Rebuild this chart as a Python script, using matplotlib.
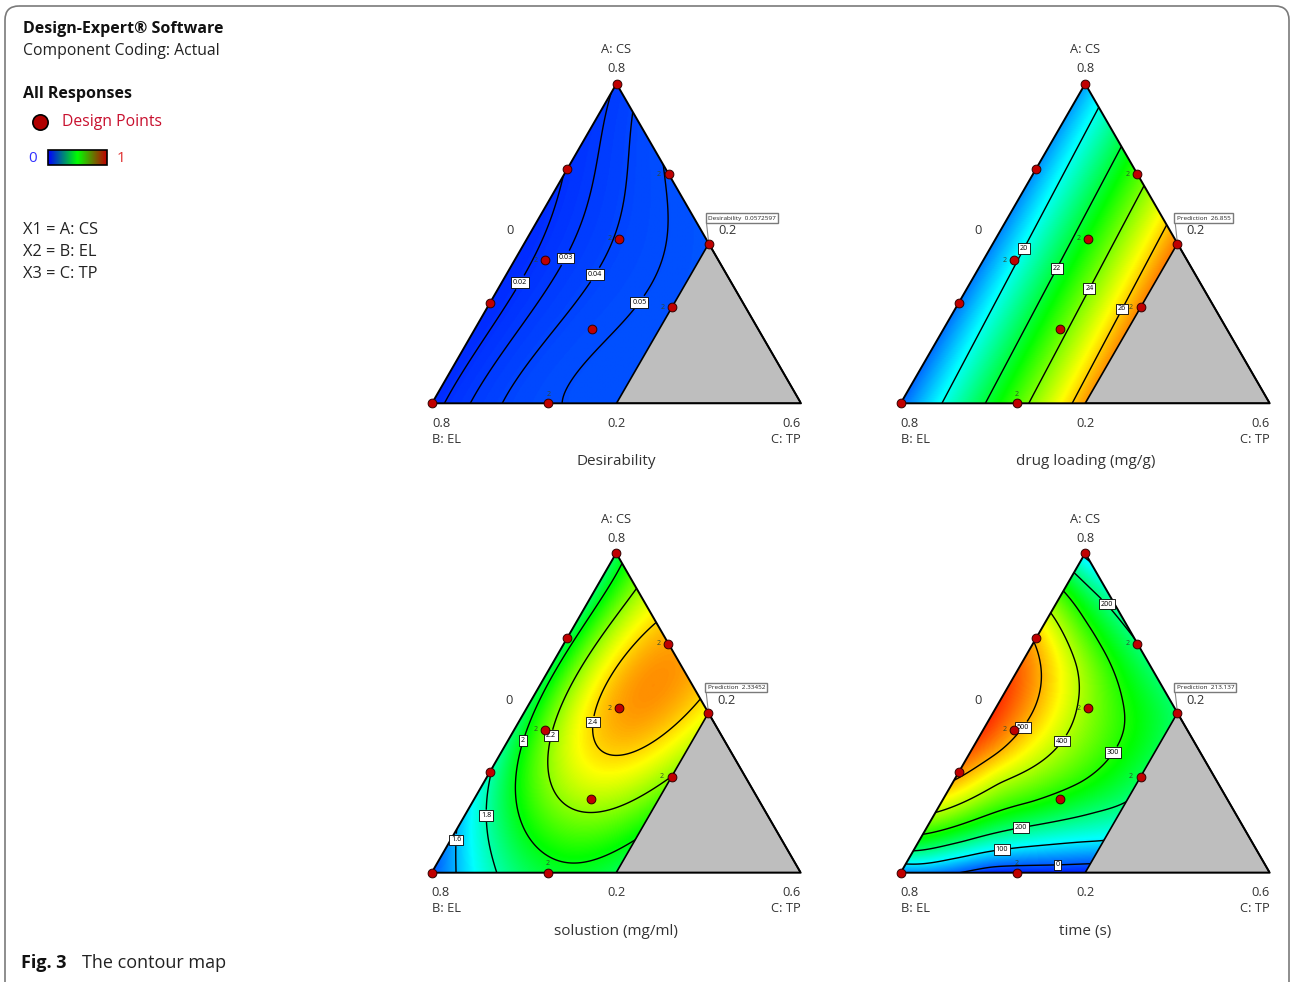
import numpy as np
import matplotlib
matplotlib.use('Agg')
import matplotlib.pyplot as plt
from matplotlib.colors import LinearSegmentedColormap
from matplotlib.patches import Polygon, FancyBboxPatch

plt.rcParams['font.family'] = ['Open Sans', 'DejaVu Sans']

H = np.sqrt(3) / 2

# design points as L-pseudo components: a = CS, c = TP (EL = 1 - a - c)
design_a = [1.0, 0.0, 0.733, 0.315, 0.717, 0.5, 0.3, 0.0, 0.515, 0.448, 0.231]
design_c = [0.0, 0.0, 0.0, 0.0, 0.283, 0.5, 0.5, 0.315, 0.25, 0.083, 0.317]
replicates = [4, 6, 7, 8, 9]

# response values: (a, c, value)
desir_pts = [
    (1.0, 0.0, 0.031), (0.0, 0.0, 0.015), (0.5, 0.5, 0.0573), (0.0, 0.5, 0.052),
    (0.73, 0.0, 0.020), (0.35, 0.0, 0.014), (0.845, 0.0, 0.025),
    (0.0, 0.035, 0.020), (0.0, 0.103, 0.030), (0.0, 0.193, 0.040), (0.0, 0.338, 0.050),
    (0.907, 0.093, 0.040), (0.761, 0.239, 0.050),
    (0.177, 0.041, 0.020), (0.378, 0.050, 0.020),
    (0.229, 0.124, 0.030), (0.452, 0.141, 0.030), (0.667, 0.086, 0.030), (0.845, 0.033, 0.030),
    (0.198, 0.194, 0.040), (0.4015, 0.243, 0.040), (0.699, 0.187, 0.040),
    (0.094, 0.381, 0.050), (0.326, 0.387, 0.050), (0.427, 0.404, 0.050),
    (0.515, 0.25, 0.041),
]
desir_levels = [0.02, 0.03, 0.04, 0.05]
desir_labels = [(0.378, 0.050), (0.452, 0.141), (0.4015, 0.243), (0.326, 0.387)]

drug_pts = [(1.0, 0.0, 18.8), (0.0, 0.0, 18.1), (0.0, 0.5, 26.6), (0.5, 0.5, 26.95)]
drug_levels = [20, 22, 24, 26]
drug_labels = [(0.4906, 0.0784), (0.428, 0.1984), (0.3653, 0.3174), (0.3026, 0.4374)]

sol_pts = [
    (0.0, 0.0, 1.50), (1.0, 0.0, 1.93), (0.5, 0.5, 2.335), (0.0, 0.5, 1.93),
    (0.144, 0.0, 1.6), (0.32, 0.0, 1.8), (0.55, 0.0, 1.90), (0.733, 0.0, 1.95),
    (0.0, 0.076, 1.6), (0.0, 0.166, 1.8), (0.0, 0.33, 1.96),
    (0.957, 0.043, 2.0), (0.89, 0.11, 2.2), (0.791, 0.209, 2.4), (0.545, 0.455, 2.4),
    (0.67, 0.33, 2.47), (0.134, 0.5, 2.0), (0.3, 0.5, 2.2),
    (0.73, 0.031, 2.0), (0.415, 0.036, 2.0), (0.28, 0.08, 2.0), (0.175, 0.146, 2.0),
    (0.09, 0.245, 2.0), (0.04, 0.38, 2.0), (0.081, 0.469, 2.0),
    (0.666, 0.087, 2.2), (0.428, 0.113, 2.2), (0.353, 0.135, 2.2), (0.259, 0.199, 2.2),
    (0.186, 0.299, 2.2), (0.191, 0.414, 2.2), (0.249, 0.476, 2.2),
    (0.697, 0.161, 2.4), (0.603, 0.172, 2.4), (0.489, 0.215, 2.4), (0.416, 0.275, 2.4),
    (0.389, 0.36, 2.4), (0.437, 0.427, 2.4),
    (0.092, 0.107, 1.8), (0.178, 0.055, 1.8),
    (0.1023, 0.022, 1.6), (0.071, 0.039, 1.6),
    (0.58, 0.28, 2.49),
]
sol_levels = [1.6, 1.8, 2.0, 2.2, 2.4]
sol_labels = [(0.1023, 0.022), (0.178, 0.055), (0.415, 0.036), (0.428, 0.113), (0.468, 0.228)]

time_pts = [
    (0.0, 0.0, -10), (1.0, 0.0, 50), (0.5, 0.5, 213), (0.0, 0.5, -40), (0.0, 0.25, -50),
    (0.024, 0.0, 100), (0.0554, 0.0, 200), (0.115, 0.0, 300), (0.186, 0.0, 400),
    (0.285, 0.0, 500), (0.45, 0.0, 590), (0.727, 0.0, 500), (0.816, 0.0, 400),
    (0.885, 0.0, 300), (0.948, 0.0, 200),
    (0.727, 0.273, 200), (0.6, 0.4, 208),
    (0.35, 0.5, 230), (0.21, 0.5, 200), (0.092, 0.5, 100), (0.034, 0.5, 0),
    (0.0137, 0.212, 0), (0.024, 0.413, 0),
    (0.0439, 0.106, 100), (0.069, 0.240, 100),
    (0.0962, 0.1255, 200), (0.141, 0.255, 200), (0.195, 0.43, 200),
    (0.155, 0.096, 300), (0.217, 0.246, 300), (0.28, 0.35, 300), (0.376, 0.388, 300),
    (0.447, 0.384, 300), (0.541, 0.328, 300), (0.719, 0.176, 300),
    (0.29, 0.119, 400), (0.4135, 0.229, 400), (0.5723, 0.1995, 400), (0.645, 0.158, 400),
    (0.374, 0.077, 500), (0.454, 0.105, 500), (0.625, 0.069, 500),
    (0.846, 0.140, 200),
    (0.515, 0.25, 370), (0.448, 0.083, 510), (0.8, 0.12, 260),
    (0.45, 0.45, 255), (0.3, 0.45, 250),
]
time_levels = [0, 100, 200, 300, 400, 500]
time_labels = [(0.024, 0.413), (0.069, 0.240), (0.141, 0.255), (0.846, 0.140),
               (0.376, 0.388), (0.4135, 0.229), (0.454, 0.105)]

panels = [
    dict(pts=desir_pts, levels=desir_levels, labels=desir_labels, vmin=-0.03, vmax=1,
         fit=('poly', 4), title='Desirability', pred='Desirability  0.0572597',
         pos=(432, 403.3)),
    dict(pts=drug_pts, levels=drug_levels, labels=drug_labels, vmin=16.97, vmax=28.3,
         fit=('tps', 0.0), title='drug loading (mg/g)', pred='Prediction  26.855',
         pos=(900.7, 403.3)),
    dict(pts=sol_pts, levels=sol_levels, labels=sol_labels, vmin=1.36, vmax=2.68,
         fit=('poly', 4), title='solustion (mg/ml)', pred='Prediction  2.33452',
         pos=(431.7, 872.7)),
    dict(pts=time_pts, levels=time_levels, labels=time_labels, vmin=-60, vmax=620,
         fit=('tps', 0.01), title='time (s)', pred='Prediction  213.137',
         pos=(900.7, 872.7)),
]

cmap = LinearSegmentedColormap.from_list(
    'de', ['#0000FF', '#00FFFF', '#00FF00', '#FFFF00', '#FF0000'])
bar_cmap = LinearSegmentedColormap.from_list('bar', ['#0000FF', '#00FF00', '#C00000'])


def kern(r):
    with np.errstate(divide='ignore', invalid='ignore'):
        k = r ** 2 * np.log(r)
    return np.nan_to_num(k)


def tps(xs, ys, vs, gx, gy, smooth=0.0):
    # thin-plate spline through the read-off values (smooth > 0 relaxes it)
    n = len(vs)
    A = np.zeros((n + 3, n + 3))
    A[:n, :n] = kern(np.hypot(xs[:, None] - xs, ys[:, None] - ys)) + smooth * np.eye(n)
    P = np.column_stack([np.ones(n), xs, ys])
    A[:n, n:] = P
    A[n:, :n] = P.T
    sol = np.linalg.solve(A, np.concatenate([vs, np.zeros(3)]))
    w, c = sol[:n], sol[n:]
    rg = np.hypot(gx[..., None] - xs, gy[..., None] - ys)
    return kern(rg) @ w + c[0] + c[1] * gx + c[2] * gy


def poly(xs, ys, vs, gx, gy, deg):
    # least-squares mixture polynomial of the given degree
    terms = [(i, j) for i in range(deg + 1) for j in range(deg + 1 - i)]
    M = np.column_stack([xs ** i * ys ** j for i, j in terms])
    coef = np.linalg.lstsq(M, vs, rcond=None)[0]
    return sum(k * gx ** i * gy ** j for k, (i, j) in zip(coef, terms))


def cart(a, c):
    a, c = np.asarray(a, float), np.asarray(c, float)
    return c + a / 2, a * H


W, HP, S = 1290, 982, 369
fig = plt.figure(figsize=(W / 100, HP / 100), dpi=100)

# background axes in pixel units for the legend, caption and frame
bg = fig.add_axes([0, 0, 1, 1])
bg.set_xlim(0, W)
bg.set_ylim(HP, 0)
bg.axis('off')
bg.add_patch(FancyBboxPatch((5, 6), 1284, 1010, boxstyle='round,pad=0,rounding_size=14',
                            fc='none', ec='#7a7a7a', lw=1.2))
bg.text(23, 29, 'Design-Expert® Software', fontsize=11.5, fontweight='bold', va='center', color='#111')
bg.text(23, 51, 'Component Coding: Actual', fontsize=11.3, va='center', color='#222')
bg.text(23, 94, 'All Responses', fontsize=11.5, fontweight='bold', va='center', color='#111')
bg.plot([40], [122], 'o', ms=11, mfc='#B00000', mec='black', mew=1.2)
bg.text(62, 122, 'Design Points', fontsize=11.3, va='center', color='#C8102E')
bg.text(33, 158, '0', fontsize=11, va='center', ha='center', color='#3030FF')
bg.imshow(np.linspace(0, 1, 100)[None, :], cmap=bar_cmap, extent=(48, 107, 165, 150), aspect='auto')
bg.add_patch(plt.Rectangle((48, 150), 59, 15, fc='none', ec='black', lw=1.2))
bg.text(121, 158, '1', fontsize=11, va='center', ha='center', color='#E03030')
for i, s in enumerate(['X1 = A: CS', 'X2 = B: EL', 'X3 = C: TP']):
    bg.text(23, 230 + 22 * i, s, fontsize=11.8, va='center', color='#222')
bg.text(21, 963, 'Fig. 3', fontsize=13, fontweight='bold', va='center', color='#111')
bg.text(82, 963, 'The contour map', fontsize=13, va='center', color='#222')

gx, gy = np.meshgrid(np.linspace(0, 1, 361), np.linspace(0, H, 313))
feasible = [(0, 0), (0.5, 0), (0.75, H / 2), (0.5, H)]
dx, dy = cart(design_a, design_c)

for p in panels:
    x0, y0 = p['pos']
    ax = fig.add_axes([x0 / W, 1 - y0 / HP, S / W, S * H / HP])
    ax.set_xlim(0, 1)
    ax.set_ylim(0, H)
    ax.axis('off')

    pa, pc, pv = zip(*p['pts'])
    px, py = cart(pa, pc)
    pv = np.asarray(pv, float)
    kind, arg = p['fit']
    z = tps(px, py, pv, gx, gy, arg) if kind == 'tps' else poly(px, py, pv, gx, gy, arg)

    clip = Polygon(feasible, closed=True, transform=ax.transData, fc='none', ec='none')
    im = ax.imshow(z, extent=(0, 1, 0, H), origin='lower', cmap=cmap, vmin=p['vmin'],
                   vmax=p['vmax'], interpolation='bilinear', aspect='auto')
    im.set_clip_path(clip)
    cs = ax.contour(gx, gy, z, levels=p['levels'], colors='black', linewidths=1.0)
    cs.set_clip_path(clip)
    la, lc = zip(*p['labels'])
    lx, ly = cart(la, lc)
    texts = ax.clabel(cs, fmt=lambda v: f'{v:g}', fontsize=5.2, inline=True, inline_spacing=1,
                      manual=list(zip(lx, ly)))
    for t in texts:
        t.set_rotation(0)
        t.set_bbox(dict(boxstyle='square,pad=0.25', fc='white', ec='black', lw=0.6))

    ax.add_patch(Polygon([(0.5, 0), (1, 0), (0.75, H / 2)], closed=True,
                         fc='#BEBEBE', ec='black', lw=1.2))
    ax.plot([0, 1, 0.5, 0], [0, 0, H, 0], color='black', lw=1.4, clip_on=False)

    ax.plot(dx, dy, 'o', ms=6.3, mfc='#C00000', mec='#300000', mew=0.7,
            clip_on=False, zorder=5)
    for i in replicates:
        off = (0, 6.5) if design_a[i] == 0 else (-7, 0)
        ax.annotate('2', (dx[i], dy[i]), xytext=off, textcoords='offset points',
                    fontsize=5, color='#2e4a2e', ha='center', va='center')

    tc = '#333333'
    ax.text(0.5, 0.958, 'A: CS', ha='center', va='center', fontsize=9.3, color=tc)
    ax.text(0.5, 0.907, '0.8', ha='center', va='center', fontsize=9.3, color=tc)
    ax.text(0.0, -0.054, '0.8', ha='left', va='center', fontsize=9.3, color=tc)
    ax.text(0.0, -0.098, 'B: EL', ha='left', va='center', fontsize=9.3, color=tc)
    ax.text(0.5, -0.054, '0.2', ha='center', va='center', fontsize=9.3, color=tc)
    ax.text(1.0, -0.054, '0.6', ha='right', va='center', fontsize=9.3, color=tc)
    ax.text(1.0, -0.098, 'C: TP', ha='right', va='center', fontsize=9.3, color=tc)
    ax.text(0.211, 0.467, '0', ha='center', va='center', fontsize=9.3, color=tc)
    ax.text(0.80, 0.467, '0.2', ha='center', va='center', fontsize=9.3, color=tc)
    ax.text(0.5, -0.159, p['title'], ha='center', va='center', fontsize=11, color=tc)

    ax.plot([0.744, 0.75], [0.488, H / 2], color='#888888', lw=0.8, clip_on=False)
    ax.text(0.748, 0.495, p['pred'], ha='left', va='bottom', fontsize=4.6, color='#222',
            bbox=dict(boxstyle='square,pad=0.35', fc='white', ec='#7a7a7a', lw=1.0))

fig.savefig('out.png', dpi=100)
